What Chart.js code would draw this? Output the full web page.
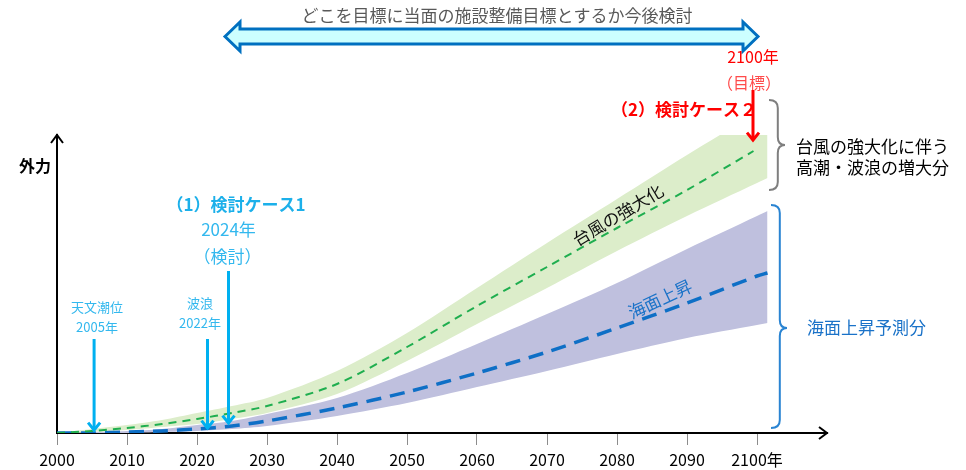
<!DOCTYPE html>
<html lang="ja">
<head>
<meta charset="utf-8">
<title>外力の将来予測</title>
<script src="https://cdn.jsdelivr.net/npm/chart.js@4.4.1/dist/chart.umd.min.js"></script>
<style>
  html, body { margin: 0; padding: 0; background: #fff; }
  #wrap { width: 966px; height: 470px; position: relative; }
</style>
</head>
<body>
<div id="wrap"><canvas id="chart" width="966" height="470"></canvas></div>
<script>
// 横軸（年）
const years = [2000, 2005, 2010, 2015, 2020, 2025, 2030, 2040, 2050, 2060, 2070, 2080, 2090, 2100, 2101.5];
const tickYears = [2000, 2010, 2020, 2030, 2040, 2050, 2060, 2070, 2080, 2090, 2100];

// 台風の強大化（上限・下限・中央）
const typhoonHigh = [0, 4, 8, 13, 20, 27, 35, 62, 100, 145, 190, 234, 278, 320, 325];
const typhoonLow  = [0, 1, 3, 6, 9, 14, 20, 39, 72, 109, 145, 182, 217, 250, 255];
const typhoonMidYears = [2000, 2005, 2010, 2015, 2020, 2025, 2030, 2040, 2050, 2060, 2070, 2080, 2090, 2099.5];
const typhoonMid = [0, 2, 5, 9, 14, 20, 27, 49, 86, 127, 166, 205, 243, 282];

// 海面上昇（上限・下限・中央）
const seaHigh = [0, 1, 2, 4, 8, 12, 19, 35, 60, 89, 119, 150, 184, 217, 222];
const seaLow  = [0, 0, 0, 1, 2, 4, 7, 17, 30, 46, 62, 79, 95, 108, 110];
const seaMid  = [0, 0, 1, 2, 4, 7, 12, 25, 41, 60, 81, 105, 130, 157, 160];

const FONT = '"Noto Sans CJK JP", "Noto Sans", sans-serif';
const CYAN = '#00b0f0';

function toPoints(xs, ys) {
    return ys.map((y, i) => ({ x: xs[i], y: y }));
}

// 矢印（V字の先端）
function drawDownArrow(ctx, x, y0, y1, color, head) {
    ctx.save();
    ctx.strokeStyle = color;
    ctx.lineWidth = 3;
    ctx.lineCap = 'butt';
    ctx.beginPath();
    ctx.moveTo(x, y0);
    ctx.lineTo(x, y1 - 1);
    ctx.stroke();
    ctx.lineJoin = 'miter';
    ctx.beginPath();
    ctx.moveTo(x - head, y1 - head * 1.4);
    ctx.lineTo(x, y1 - 1);
    ctx.lineTo(x + head, y1 - head * 1.4);
    ctx.stroke();
    ctx.restore();
}

// 波括弧
function drawBrace(ctx, x, yTop, yBot, yMid, w, color) {
    const sx = x + w * 0.55;
    const r = 8;
    ctx.save();
    ctx.strokeStyle = color;
    ctx.lineWidth = 2;
    ctx.beginPath();
    ctx.moveTo(x, yTop);
    ctx.quadraticCurveTo(sx, yTop, sx, yTop + r);
    ctx.lineTo(sx, yMid - r);
    ctx.quadraticCurveTo(sx, yMid, x + w, yMid);
    ctx.quadraticCurveTo(sx, yMid, sx, yMid + r);
    ctx.lineTo(sx, yBot - r);
    ctx.quadraticCurveTo(sx, yBot, x, yBot);
    ctx.stroke();
    ctx.restore();
}

function text(ctx, str, x, y, color, size, weight, align) {
    ctx.fillStyle = color;
    ctx.font = (weight || 'normal') + ' ' + size + 'px ' + FONT;
    ctx.textAlign = align || 'center';
    ctx.textBaseline = 'middle';
    ctx.fillText(str, x, y);
}

// 注記・矢印・括弧などの描画
const annotationPlugin = {
    id: 'annotations',
    afterDraw(chart) {
        const ctx = chart.ctx;
        const xs = chart.scales.x;
        const area = chart.chartArea;
        ctx.save();

        // 軸の矢印
        ctx.strokeStyle = '#000';
        ctx.lineWidth = 2;
        ctx.beginPath();
        ctx.moveTo(area.left - 6, area.top + 8);
        ctx.lineTo(area.left, area.top);
        ctx.lineTo(area.left + 6, area.top + 8);
        ctx.moveTo(area.right - 8, area.bottom - 6);
        ctx.lineTo(area.right, area.bottom);
        ctx.lineTo(area.right - 8, area.bottom + 6);
        ctx.stroke();

        text(ctx, '外力', 35, 166, '#000', 16, 'bold');

        // 上部の両矢印
        const ax0 = 225, ax1 = 758, cy = 36.5;
        ctx.beginPath();
        ctx.moveTo(ax0, cy);
        ctx.lineTo(ax0 + 15, cy - 14.5);
        ctx.lineTo(ax0 + 15, cy - 7.5);
        ctx.lineTo(ax1 - 15, cy - 7.5);
        ctx.lineTo(ax1 - 15, cy - 14.5);
        ctx.lineTo(ax1, cy);
        ctx.lineTo(ax1 - 15, cy + 14.5);
        ctx.lineTo(ax1 - 15, cy + 7.5);
        ctx.lineTo(ax0 + 15, cy + 7.5);
        ctx.lineTo(ax0 + 15, cy + 14.5);
        ctx.closePath();
        ctx.fillStyle = '#ccffff';
        ctx.fill();
        ctx.strokeStyle = '#0070c0';
        ctx.lineWidth = 3;
        ctx.lineJoin = 'miter';
        ctx.stroke();
        text(ctx, 'どこを目標に当面の施設整備目標とするか今後検討', 497, 16, '#595959', 17);

        // 2100年（目標）
        const x2100 = xs.getPixelForValue(2100) - 4;
        text(ctx, '2100年', x2100, 57, '#ff0000', 16);
        text(ctx, '（目標）', x2100 - 4, 83, '#ff4b4b', 16);
        drawDownArrow(ctx, x2100, 90, 141, '#ff0000', 6);
        text(ctx, '（2）検討ケース２', 757, 110, '#ff0000', 17, 'bold', 'right');

        // 右側の括弧と説明
        drawBrace(ctx, 769, 100, 190, 145, 16, '#7f7f7f');
        text(ctx, '台風の強大化に伴う', 796, 147, '#000', 17, 'normal', 'left');
        text(ctx, '高潮・波浪の増大分', 796, 168, '#000', 17, 'normal', 'left');
        drawBrace(ctx, 771, 205, 428, 328, 16, '#2a84d2');
        text(ctx, '海面上昇予測分', 807, 328, '#1a72c8', 17, 'normal', 'left');

        // 検討ケース1
        const x2025 = xs.getPixelForValue(2024.5);
        text(ctx, '（1）検討ケース1', 236, 205, '#1cb0ea', 17, 'bold');
        text(ctx, '2024年', x2025, 230, '#33b8ee', 17);
        text(ctx, '（検討）', x2025 - 1, 257, '#33b8ee', 17);
        drawDownArrow(ctx, x2025, 271, 424, CYAN, 6);

        // 天文潮位・波浪
        const x2005 = xs.getPixelForValue(2005.3);
        text(ctx, '天文潮位', 97, 307, '#33b8ee', 13);
        text(ctx, '2005年', 97, 327, '#33b8ee', 13);
        drawDownArrow(ctx, x2005, 339, 431, CYAN, 6);
        const x2022 = xs.getPixelForValue(2021.5);
        text(ctx, '波浪', 200, 303, '#33b8ee', 13);
        text(ctx, '2022年', 200, 323, '#33b8ee', 13);
        drawDownArrow(ctx, x2022, 339, 429, CYAN, 6);

        // 帯の中のラベル（帯の傾きに合わせて回転）
        ctx.save();
        ctx.translate(618, 215);
        ctx.rotate(-31 * Math.PI / 180);
        text(ctx, '台風の強大化', 0, 0, '#111', 17);
        ctx.restore();
        ctx.save();
        ctx.translate(660, 299);
        ctx.rotate(-25 * Math.PI / 180);
        text(ctx, '海面上昇', 0, 0, '#1a72c8', 17);
        ctx.restore();

        ctx.restore();
    }
};

const lineBase = {
    pointRadius: 0,
    pointHoverRadius: 0,
    tension: 0.3,
    fill: false
};

new Chart(document.getElementById('chart').getContext('2d'), {
    type: 'line',
    data: {
        datasets: [
            Object.assign({}, lineBase, {
                label: '台風の強大化',
                data: toPoints(typhoonMidYears, typhoonMid),
                borderColor: '#1fae4f',
                borderWidth: 2,
                borderDash: [8, 6],
                order: 0
            }),
            Object.assign({}, lineBase, {
                label: '海面上昇',
                data: toPoints(years, seaMid),
                borderColor: '#0e6fc6',
                borderWidth: 3.5,
                borderDash: [15, 9],
                order: 0
            }),
            Object.assign({}, lineBase, {
                label: '台風上限',
                data: toPoints(years, typhoonHigh),
                borderColor: 'rgba(0,0,0,0)',
                backgroundColor: '#dcedca',
                fill: '+1',
                order: 1
            }),
            Object.assign({}, lineBase, {
                label: '台風下限',
                data: toPoints(years, typhoonLow),
                borderColor: 'rgba(0,0,0,0)',
                order: 1
            }),
            Object.assign({}, lineBase, {
                label: '海面上限',
                data: toPoints(years, seaHigh),
                borderColor: 'rgba(0,0,0,0)',
                backgroundColor: '#bfc0de',
                fill: '+1',
                order: 2
            }),
            Object.assign({}, lineBase, {
                label: '海面下限',
                data: toPoints(years, seaLow),
                borderColor: 'rgba(0,0,0,0)',
                order: 2
            })
        ]
    },
    options: {
        responsive: false,
        animation: false,
        events: [],
        layout: { padding: { left: 57, right: 139, top: 135, bottom: 0 } },
        plugins: {
            legend: { display: false },
            tooltip: { enabled: false }
        },
        scales: {
            x: {
                type: 'linear',
                min: 2000,
                max: 2110,
                afterBuildTicks: scale => {
                    scale.ticks = tickYears.map(v => ({ value: v }));
                },
                afterFit: scale => { scale.height = 37; },
                ticks: {
                    font: { family: FONT, size: 16 },
                    color: '#000',
                    padding: 5,
                    maxRotation: 0,
                    autoSkip: false,
                    callback: v => (v === 2100 ? '2100年' : String(v))
                },
                grid: {
                    drawOnChartArea: false,
                    drawTicks: true,
                    tickLength: 12,
                    color: '#8c8c8c',
                    lineWidth: 1
                },
                border: { display: true, color: '#000', width: 2 }
            },
            y: {
                min: 0,
                max: 298,
                afterFit: scale => { scale.width = 0; },
                ticks: { display: false },
                grid: { display: false },
                border: { display: true, color: '#000', width: 2 }
            }
        }
    },
    plugins: [annotationPlugin]
});
</script>
</body>
</html>
